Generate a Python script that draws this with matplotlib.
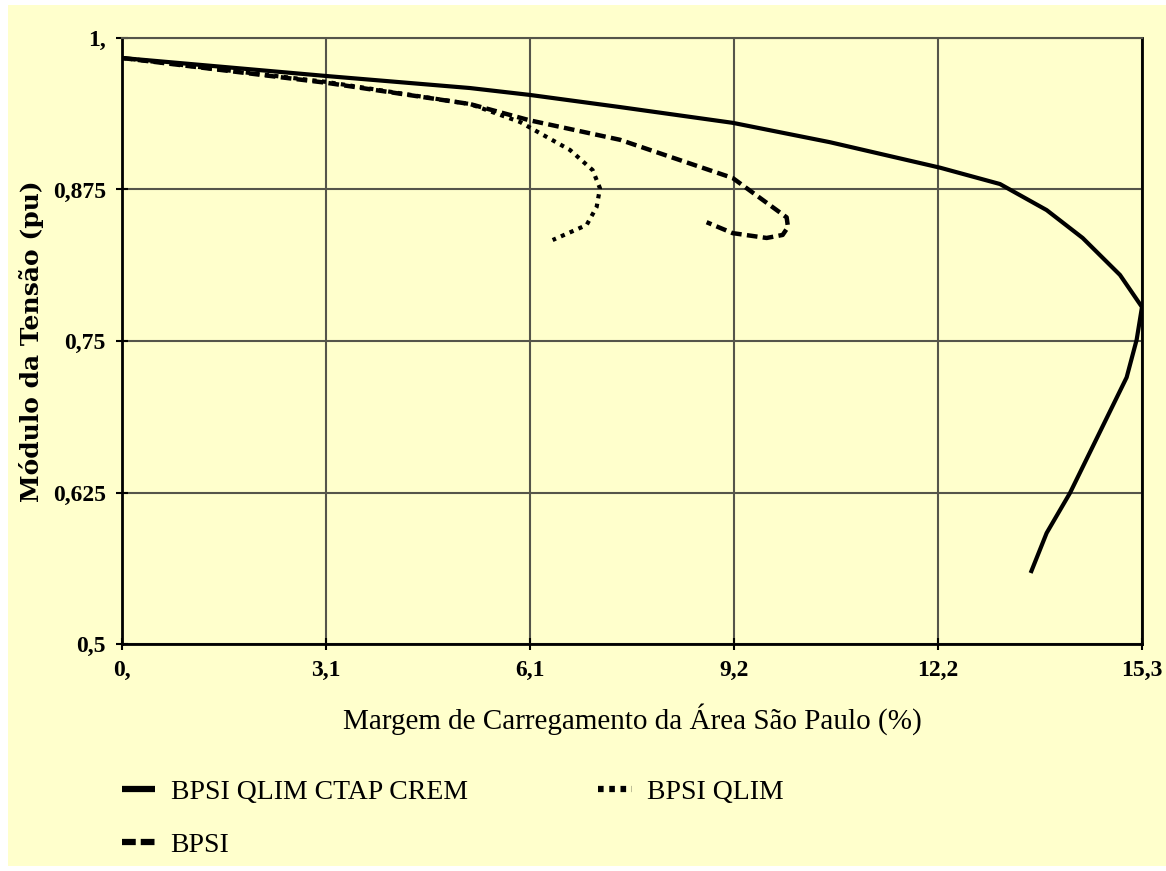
import matplotlib.pyplot as plt
from matplotlib.lines import Line2D
from matplotlib.patches import Rectangle

# Curvas PV da área São Paulo (margem de carregamento em %, tensão em pu)
solid_x = [0.0, 3.07, 5.22, 6.12, 7.47, 9.16, 10.62, 12.27, 13.17, 13.87,
           14.41, 14.97, 15.30, 15.22, 15.07, 14.22, 13.87, 13.63]
solid_y = [0.9835, 0.9686, 0.9587, 0.953, 0.943, 0.930, 0.914, 0.893, 0.8795, 0.858,
           0.835, 0.8045, 0.778, 0.751, 0.720, 0.6246, 0.5916, 0.5586]

dashed_x = [0.0, 3.07, 5.22, 6.12, 7.47, 9.16, 9.97, 9.99, 9.91, 9.67, 9.16, 8.77]
dashed_y = [0.9835, 0.963, 0.9455, 0.932, 0.916, 0.8845, 0.852, 0.844, 0.8375, 0.835,
            0.839, 0.848]

dotted_x = [0.0, 3.07, 5.22, 5.97, 6.72, 7.06, 7.17, 7.12, 6.97, 6.46]
dotted_y = [0.9835, 0.9637, 0.9455, 0.9307, 0.9076, 0.891, 0.876, 0.8606, 0.8457, 0.8333]

labels = ['BPSI QLIM CTAP CREM', 'BPSI', 'BPSI QLIM']

xticks = [0.0, 3.06, 6.12, 9.18, 12.24, 15.3]
xtick_labels = ['0,', '3,1', '6,1', '9,2', '12,2', '15,3']
yticks = [0.5, 0.625, 0.75, 0.875, 1.0]
ytick_labels = ['0,5', '0,625', '0,75', '0,875', '1,']

bg = '#ffffcc'
grid_c = '#55554a'
plt.rcParams['font.family'] = ['Liberation Serif', 'DejaVu Serif']

fig = plt.figure(figsize=(11.66, 8.71), dpi=100)
fig.patch.set_facecolor('white')
fig.patches.append(Rectangle((8 / 1166, 0.006), 1 - 8 / 1166, 0.988,
                             transform=fig.transFigure, facecolor=bg,
                             edgecolor='none', zorder=-10))

ax = fig.add_axes([0.1046, 0.2606, 0.8748, 0.6958])
ax.set_facecolor(bg)

ax.plot(solid_x, solid_y, color='black', lw=3, solid_capstyle='butt')
ax.plot(dashed_x, dashed_y, color='black', lw=3.2,
        linestyle=(0, (2.4, 1.2)), dash_capstyle='butt')
ax.plot(dotted_x, dotted_y, color='black', lw=3,
        linestyle=(0, (1, 1.3)), dash_capstyle='butt')

ax.set_xlim(0, 15.3)
ax.set_ylim(0.5, 1.0)
ax.set_xticks(xticks)
ax.set_xticklabels(xtick_labels, fontweight='bold')
ax.set_yticks(yticks)
ax.set_yticklabels(ytick_labels, fontweight='bold')
ax.tick_params(direction='inout', length=9, width=1.5, labelsize=17, pad=7)
ax.grid(True, color=grid_c, lw=1.5)

for side in ['left', 'bottom', 'right']:
    ax.spines[side].set_linewidth(2)
    ax.spines[side].set_color('black')
ax.spines['top'].set_linewidth(1.5)
ax.spines['top'].set_color(grid_c)

ax.set_xlabel('Margem de Carregamento da Área São Paulo (%)', fontsize=21)
ax.xaxis.set_label_coords(0.5, -0.097)
ax.set_ylabel('Módulo da Tensão (pu)', fontsize=18, fontweight='bold',
              family='DejaVu Serif')
ax.yaxis.set_label_coords(-0.0765, 0.5)

# legend keys drawn shorter and heavier than the plotted lines
handles = [
    Line2D([], [], color='black', lw=4.5, solid_capstyle='butt'),
    Line2D([], [], color='black', lw=4.5, linestyle=(0, (2.2, 0.8)), dash_capstyle='butt'),
    Line2D([], [], color='black', lw=4.5, linestyle=(0, (0.9, 0.9)), dash_capstyle='butt'),
]
fig.legend(handles, labels, loc='upper left', bbox_to_anchor=(122 / 1166, 0.105),
           ncol=2, frameon=False, fontsize=20, handlelength=1.2,
           handletextpad=0.55, columnspacing=4.7, labelspacing=1.0,
           borderpad=0, borderaxespad=0)

plt.savefig('out.png', dpi=100, facecolor=fig.get_facecolor())
